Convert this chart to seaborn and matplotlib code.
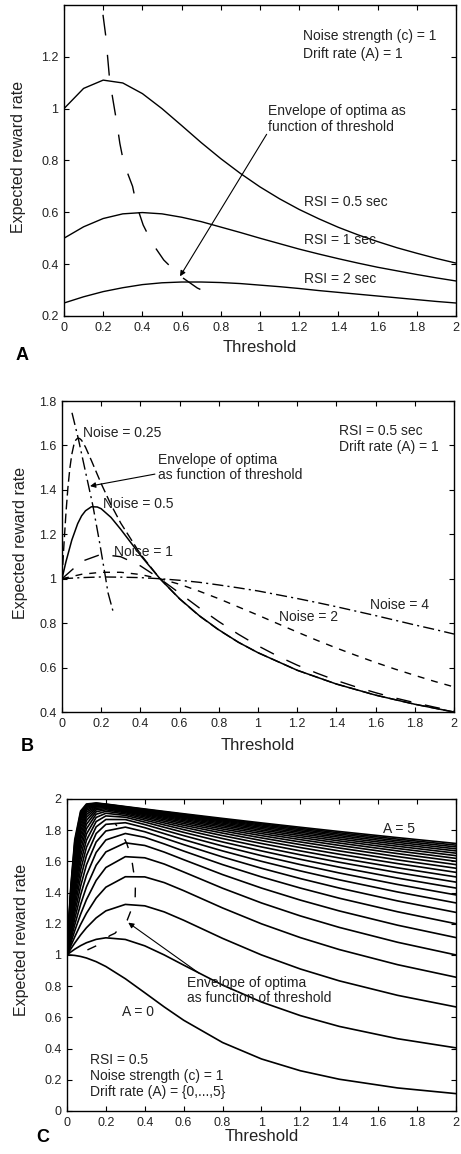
import matplotlib
matplotlib.use('Agg')
import pandas as pd
import seaborn as sns
import matplotlib.pyplot as plt

# ---------------- Panel A : reward rate vs threshold for three RSIs
thr_a = [0.0, 0.1, 0.2, 0.3, 0.4, 0.5, 0.6, 0.7, 0.8, 0.9, 1.0,
         1.1, 1.2, 1.3, 1.4, 1.5, 1.6, 1.7, 1.8, 1.9, 2.0]
rr_rsi_05 = [1.000, 1.078, 1.110, 1.099, 1.058, 1.000, 0.935, 0.869, 0.807, 0.750, 0.698,
             0.652, 0.611, 0.575, 0.542, 0.513, 0.487, 0.463, 0.442, 0.422, 0.404]
rr_rsi_1 = [0.500, 0.544, 0.576, 0.594, 0.599, 0.594, 0.581, 0.564, 0.543, 0.522, 0.500,
            0.479, 0.458, 0.439, 0.421, 0.404, 0.388, 0.374, 0.360, 0.347, 0.335]
rr_rsi_2 = [0.250, 0.274, 0.294, 0.309, 0.321, 0.328, 0.331, 0.331, 0.329, 0.325, 0.319,
            0.313, 0.306, 0.298, 0.291, 0.284, 0.277, 0.270, 0.263, 0.256, 0.250]
env_a_x = [0.199, 0.213, 0.233, 0.25, 0.27, 0.285, 0.305, 0.35, 0.37, 0.404, 0.451, 0.509, 0.591, 0.68, 0.779]
env_a_y = [1.362, 1.281, 1.111, 1.033, 0.943, 0.866, 0.79, 0.70, 0.628, 0.551, 0.48, 0.416, 0.355, 0.308, 0.273]

# ---------------- Panel B : different noise levels (RSI 0.5, A = 1)
thr_n025 = [0, 0.01, 0.02, 0.03, 0.04, 0.05, 0.06, 0.07, 0.08, 0.09, 0.1, 0.12, 0.15, 0.2,
            0.25, 0.3, 0.4, 0.5, 0.6, 0.7, 0.8, 0.9, 1.0, 1.2, 1.4, 1.6, 1.8, 2.0]
rr_n025 = [1.0, 1.155, 1.294, 1.409, 1.497, 1.560, 1.601, 1.624, 1.633, 1.631, 1.623, 1.592, 1.532, 1.428,
           1.333, 1.250, 1.111, 1.0, 0.909, 0.833, 0.769, 0.714, 0.667, 0.588, 0.526, 0.476, 0.435, 0.400]
thr_n05 = [0, 0.02, 0.05, 0.08, 0.1, 0.12, 0.15, 0.18, 0.2, 0.25, 0.3, 0.35, 0.4, 0.5,
           0.6, 0.7, 0.8, 0.9, 1.0, 1.2, 1.4, 1.6, 1.8, 2.0]
rr_n05 = [1.0, 1.076, 1.174, 1.248, 1.283, 1.306, 1.324, 1.323, 1.315, 1.276, 1.222, 1.164, 1.106, 1.0,
          0.910, 0.834, 0.770, 0.714, 0.667, 0.588, 0.526, 0.476, 0.435, 0.400]
thr_b = [0.0, 0.1, 0.2, 0.3, 0.4, 0.5, 0.6, 0.7, 0.8, 0.9, 1.0,
         1.1, 1.2, 1.3, 1.4, 1.5, 1.6, 1.7, 1.8, 1.9, 2.0]
rr_n1 = [1.000, 1.078, 1.110, 1.099, 1.058, 1.000, 0.935, 0.869, 0.807, 0.750, 0.698,
         0.652, 0.611, 0.575, 0.542, 0.513, 0.487, 0.463, 0.442, 0.422, 0.404]
rr_n2 = [1.000, 1.020, 1.029, 1.029, 1.019, 1.000, 0.975, 0.944, 0.910, 0.873, 0.836,
         0.798, 0.760, 0.723, 0.688, 0.655, 0.623, 0.593, 0.565, 0.538, 0.513]
rr_n4 = [1.000, 1.005, 1.008, 1.007, 1.005, 1.000, 0.993, 0.984, 0.972, 0.959, 0.945,
         0.928, 0.911, 0.893, 0.874, 0.854, 0.834, 0.813, 0.792, 0.772, 0.751]
env_b_x = [0.051, 0.082, 0.158, 0.192, 0.218, 0.235, 0.262]
env_b_y = [1.747, 1.635, 1.327, 1.162, 1.027, 0.936, 0.848]

# ---------------- Panel C : family of drift rates (RSI 0.5, c = 1)
thr_c = [0, 0.01, 0.02, 0.04, 0.07, 0.1, 0.15, 0.2, 0.3, 0.4, 0.5, 0.6, 0.8, 1.0, 1.2, 1.4, 1.7, 2.0]
rr_c = [
    [1, 0.9998, 0.9992, 0.9968, 0.9903, 0.9804, 0.9569, 0.9259, 0.8475, 0.7576, 0.6667, 0.5814, 0.4386, 0.3333, 0.2577, 0.2033, 0.1475, 0.1111],
    [1, 1.0098, 1.0192, 1.0367, 1.0595, 1.0782, 1.0998, 1.1098, 1.0992, 1.0583, 1.0, 0.9347, 0.8068, 0.6982, 0.6111, 0.5419, 0.4630, 0.4044],
    [1, 1.0198, 1.0391, 1.0764, 1.1281, 1.1742, 1.2373, 1.2825, 1.3238, 1.3148, 1.2758, 1.2223, 1.1061, 1.0, 0.9098, 0.8339, 0.7410, 0.6667],
    [1, 1.0298, 1.0591, 1.1159, 1.1954, 1.2667, 1.3643, 1.4343, 1.5012, 1.5002, 1.4636, 1.4120, 1.3011, 1.1994, 1.1110, 1.0345, 0.9375, 0.8572],
    [1, 1.0398, 1.0790, 1.1550, 1.2609, 1.3542, 1.4775, 1.5604, 1.6298, 1.6226, 1.5826, 1.5317, 1.4276, 1.3332, 1.2500, 1.1765, 1.0811, 1.0],
    [1, 1.0497, 1.0988, 1.1936, 1.3239, 1.4356, 1.5751, 1.6604, 1.7185, 1.7016, 1.6592, 1.6105, 1.5149, 1.4286, 1.3514, 1.2821, 1.1905, 1.1111],
    [1, 1.0597, 1.1185, 1.2316, 1.3843, 1.5100, 1.6570, 1.7371, 1.7784, 1.7537, 1.7113, 1.6658, 1.5789, 1.5000, 1.4286, 1.3636, 1.2766, 1.2000],
    [1, 1.0697, 1.1382, 1.2689, 1.4411, 1.5771, 1.7240, 1.7946, 1.8191, 1.7896, 1.7488, 1.7070, 1.6279, 1.5556, 1.4894, 1.4286, 1.3462, 1.2727],
    [1, 1.0796, 1.1577, 1.3055, 1.4947, 1.6369, 1.7781, 1.8370, 1.8474, 1.8157, 1.7773, 1.7390, 1.6667, 1.6000, 1.5385, 1.4815, 1.4035, 1.3333],
    [1, 1.0895, 1.1771, 1.3411, 1.5446, 1.6894, 1.8210, 1.8682, 1.8676, 1.8356, 1.7998, 1.7647, 1.6981, 1.6364, 1.5789, 1.5254, 1.4516, 1.3846],
    [1, 1.0995, 1.1964, 1.3758, 1.5909, 1.7352, 1.8548, 1.8911, 1.8827, 1.8513, 1.8181, 1.7857, 1.7241, 1.6667, 1.6129, 1.5625, 1.4925, 1.4286],
    [1, 1.1093, 1.2156, 1.4094, 1.6337, 1.7747, 1.8812, 1.9080, 1.8942, 1.8642, 1.8333, 1.8033, 1.7460, 1.6923, 1.6418, 1.5942, 1.5278, 1.4667],
    [1, 1.1192, 1.2345, 1.4419, 1.6724, 1.8085, 1.9018, 1.9207, 1.9035, 1.8749, 1.8462, 1.8182, 1.7647, 1.7143, 1.6667, 1.6216, 1.5584, 1.5000],
    [1, 1.1290, 1.2533, 1.4734, 1.7079, 1.8374, 1.9178, 1.9303, 1.9111, 1.8840, 1.8571, 1.8310, 1.7808, 1.7333, 1.6883, 1.6456, 1.5854, 1.5294],
    [1, 1.1389, 1.2719, 1.5036, 1.7400, 1.8618, 1.9303, 1.9377, 1.9174, 1.8918, 1.8667, 1.8421, 1.7949, 1.7500, 1.7073, 1.6667, 1.6092, 1.5556],
    [1, 1.1487, 1.2903, 1.5327, 1.7689, 1.8824, 1.9401, 1.9435, 1.9229, 1.8987, 1.8750, 1.8519, 1.8072, 1.7647, 1.7241, 1.6854, 1.6304, 1.5789],
    [1, 1.1584, 1.3085, 1.5605, 1.7949, 1.8998, 1.9477, 1.9481, 1.9276, 1.9048, 1.8824, 1.8605, 1.8182, 1.7778, 1.7391, 1.7021, 1.6495, 1.6000],
    [1, 1.1681, 1.3265, 1.5871, 1.8181, 1.9143, 1.9538, 1.9519, 1.9318, 1.9101, 1.8889, 1.8681, 1.8280, 1.7895, 1.7526, 1.7172, 1.6667, 1.6190],
    [1, 1.1778, 1.3442, 1.6125, 1.8389, 1.9265, 1.9587, 1.9551, 1.9355, 1.9149, 1.8947, 1.8750, 1.8367, 1.8000, 1.7647, 1.7308, 1.6822, 1.6364],
    [1, 1.1875, 1.3617, 1.6367, 1.8573, 1.9367, 1.9626, 1.9578, 1.9388, 1.9192, 1.9000, 1.8812, 1.8447, 1.8095, 1.7757, 1.7431, 1.6964, 1.6522],
    [1, 1.1971, 1.3789, 1.6596, 1.8737, 1.9453, 1.9657, 1.9602, 1.9417, 1.9231, 1.9048, 1.8868, 1.8519, 1.8182, 1.7857, 1.7544, 1.7094, 1.6667],
    [1, 1.2067, 1.3959, 1.6814, 1.8883, 1.9524, 1.9683, 1.9622, 1.9444, 1.9266, 1.9091, 1.8919, 1.8584, 1.8261, 1.7949, 1.7647, 1.7213, 1.6800],
    [1, 1.2163, 1.4126, 1.7020, 1.9011, 1.9584, 1.9705, 1.9640, 1.9469, 1.9298, 1.9130, 1.8966, 1.8644, 1.8333, 1.8033, 1.7742, 1.7323, 1.6923],
    [1, 1.2258, 1.4290, 1.7216, 1.9124, 1.9634, 1.9723, 1.9656, 1.9492, 1.9328, 1.9167, 1.9008, 1.8699, 1.8400, 1.8110, 1.7829, 1.7424, 1.7037],
    [1, 1.2353, 1.4452, 1.7400, 1.9224, 1.9675, 1.9739, 1.9671, 1.9512, 1.9355, 1.9200, 1.9048, 1.8750, 1.8462, 1.8182, 1.7910, 1.7518, 1.7143],
]
env_c_x = [0.105, 0.153, 0.221, 0.247, 0.284, 0.310, 0.327, 0.350, 0.352, 0.341, 0.332, 0.307, 0.281, 0.247]
env_c_y = [1.032, 1.060, 1.124, 1.139, 1.192, 1.224, 1.278, 1.330, 1.460, 1.545, 1.620, 1.716, 1.780, 1.844]

xtick_vals = [0, 0.2, 0.4, 0.6, 0.8, 1, 1.2, 1.4, 1.6, 1.8, 2]
xtick_labels = ['0', '0.2', '0.4', '0.6', '0.8', '1', '1.2', '1.4', '1.6', '1.8', '2']

sns.set_style('ticks')
plt.rcParams['font.family'] = ['Liberation Sans', 'DejaVu Sans']

fig = plt.figure(figsize=(4.61, 11.54), dpi=100)
ax_a = fig.add_axes([0.1388, 0.7262, 0.8503, 0.2695])
ax_b = fig.add_axes([0.1345, 0.3830, 0.8503, 0.2695])
ax_c = fig.add_axes([0.1453, 0.0373, 0.8438, 0.2704])


def style_axes(ax, ylim, yticks, ylabels, xlab_y, ylab_x, ylab_y):
    ax.set_xlim(0, 2)
    ax.set_ylim(*ylim)
    ax.set_xticks(xtick_vals)
    ax.set_xticklabels(xtick_labels)
    ax.set_yticks(yticks)
    ax.set_yticklabels(ylabels)
    ax.tick_params(direction='in', top=True, right=True, length=3.5, width=0.8,
                   labelsize=9, pad=4, colors='black', labelcolor='#222222')
    for sp in ax.spines.values():
        sp.set_visible(True)
        sp.set_linewidth(1.0)
        sp.set_color('black')
    ax.set_xlabel('Threshold', fontsize=12, color='#222222')
    ax.set_ylabel('Expected reward rate', fontsize=11.5, color='#222222')
    ax.xaxis.label.set_va('center')
    ax.yaxis.label.set_va('center')
    ax.xaxis.set_label_coords(0.5, xlab_y)
    ax.yaxis.set_label_coords(ylab_x, ylab_y)


arrow_kw = dict(arrowstyle='-|>', color='black', lw=0.8, mutation_scale=8, shrinkA=0, shrinkB=0)
txt_kw = dict(fontsize=10, color='#222222', va='center', ha='left')

# ---- Panel A
sns.lineplot(x=thr_a, y=rr_rsi_05, ax=ax_a, color='black', lw=1.0)
sns.lineplot(x=thr_a, y=rr_rsi_1, ax=ax_a, color='black', lw=1.0)
sns.lineplot(x=thr_a, y=rr_rsi_2, ax=ax_a, color='black', lw=1.0)
sns.lineplot(x=env_a_x, y=env_a_y, ax=ax_a, color='black', lw=1.0,
             sort=False, estimator=None, linestyle=(0, (15, 14)))
style_axes(ax_a, (0.2, 1.4), [0.2, 0.4, 0.6, 0.8, 1.0, 1.2],
           ['0.2', '0.4', '0.6', '0.8', '1', '1.2'], -0.103, -0.117, 0.511)
ax_a.text(1.22, 1.28, 'Noise strength (c) = 1', **txt_kw)
ax_a.text(1.22, 1.212, 'Drift rate (A) = 1', **txt_kw)
ax_a.text(1.04, 0.959, 'Envelope of optima as\nfunction of threshold', linespacing=1.15, **txt_kw)
ax_a.annotate('', xy=(0.592, 0.353), xytext=(1.034, 0.901), arrowprops=arrow_kw)
ax_a.text(1.226, 0.641, 'RSI = 0.5 sec', **txt_kw)
ax_a.text(1.226, 0.494, 'RSI = 1 sec', **txt_kw)
ax_a.text(1.226, 0.344, 'RSI = 2 sec', **txt_kw)

# ---- Panel B
sns.lineplot(x=thr_n05, y=rr_n05, ax=ax_b, color='black', lw=1.1)
sns.lineplot(x=thr_n025, y=rr_n025, ax=ax_b, color='black', lw=1.0, linestyle=(0, (7, 3)))
sns.lineplot(x=thr_b, y=rr_n1, ax=ax_b, color='black', lw=1.0, linestyle=(0, (11, 10)))
sns.lineplot(x=thr_b, y=rr_n2, ax=ax_b, color='black', lw=1.0, linestyle=(0, (5, 5)))
sns.lineplot(x=thr_b, y=rr_n4, ax=ax_b, color='black', lw=1.0, linestyle=(0, (8, 3, 1.5, 3)))
sns.lineplot(x=env_b_x, y=env_b_y, ax=ax_b, color='black', lw=1.0,
             sort=False, estimator=None, linestyle=(0, (9, 3, 1.5, 3)))
style_axes(ax_b, (0.4, 1.8), [0.4, 0.6, 0.8, 1.0, 1.2, 1.4, 1.6, 1.8],
           ['0.4', '0.6', '0.8', '1', '1.2', '1.4', '1.6', '1.8'], -0.108, -0.107, 0.543)
ax_b.text(0.107, 1.657, 'Noise = 0.25', **txt_kw)
ax_b.text(0.49, 1.50, 'Envelope of optima\nas function of threshold', linespacing=1.15, **txt_kw)
ax_b.annotate('', xy=(0.143, 1.417), xytext=(0.474, 1.471), arrowprops=arrow_kw)
ax_b.text(0.21, 1.336, 'Noise = 0.5', **txt_kw)
ax_b.text(0.265, 1.121, 'Noise = 1', **txt_kw)
ax_b.text(1.108, 0.828, 'Noise = 2', **txt_kw)
ax_b.text(1.571, 0.881, 'Noise = 4', **txt_kw)
ax_b.text(1.415, 1.628, 'RSI = 0.5 sec\nDrift rate (A) = 1', linespacing=1.15, **txt_kw)

# ---- Panel C
rows = []
for a, curve in enumerate(rr_c):
    for t, r in zip(thr_c, curve):
        rows.append({'drift': a, 'threshold': t, 'rr': r})
df_c = pd.DataFrame(rows)
sns.lineplot(data=df_c, x='threshold', y='rr', units='drift', estimator=None,
             ax=ax_c, color='black', lw=1.2)
sns.lineplot(x=env_c_x, y=env_c_y, ax=ax_c, color='black', lw=1.0,
             sort=False, estimator=None, linestyle=(0, (7, 11)))
style_axes(ax_c, (0, 2), [0, 0.2, 0.4, 0.6, 0.8, 1.0, 1.2, 1.4, 1.6, 1.8, 2.0],
           ['0', '0.2', '0.4', '0.6', '0.8', '1', '1.2', '1.4', '1.6', '1.8', '2'],
           -0.083, -0.116, 0.548)
ax_c.text(1.625, 1.81, 'A = 5', **txt_kw)
ax_c.text(0.281, 0.636, 'A = 0', **txt_kw)
ax_c.text(0.617, 0.772, 'Envelope of optima\nas function of threshold', linespacing=1.15, **txt_kw)
ax_c.annotate('', xy=(0.315, 1.207), xytext=(0.679, 0.883), arrowprops=arrow_kw)
ax_c.text(0.118, 0.224, 'RSI = 0.5\nNoise strength (c) = 1\nDrift rate (A) = {0,...,5}',
          linespacing=1.15, **txt_kw)

# panel letters
for lab, (fx, fy) in zip(['A', 'B', 'C'], [(0.048, 0.692), (0.059, 0.353), (0.093, 0.0147)]):
    fig.text(fx, fy, lab, fontsize=13, fontweight='bold', ha='center', va='center', color='black')

fig.savefig('out.png', dpi=100)
